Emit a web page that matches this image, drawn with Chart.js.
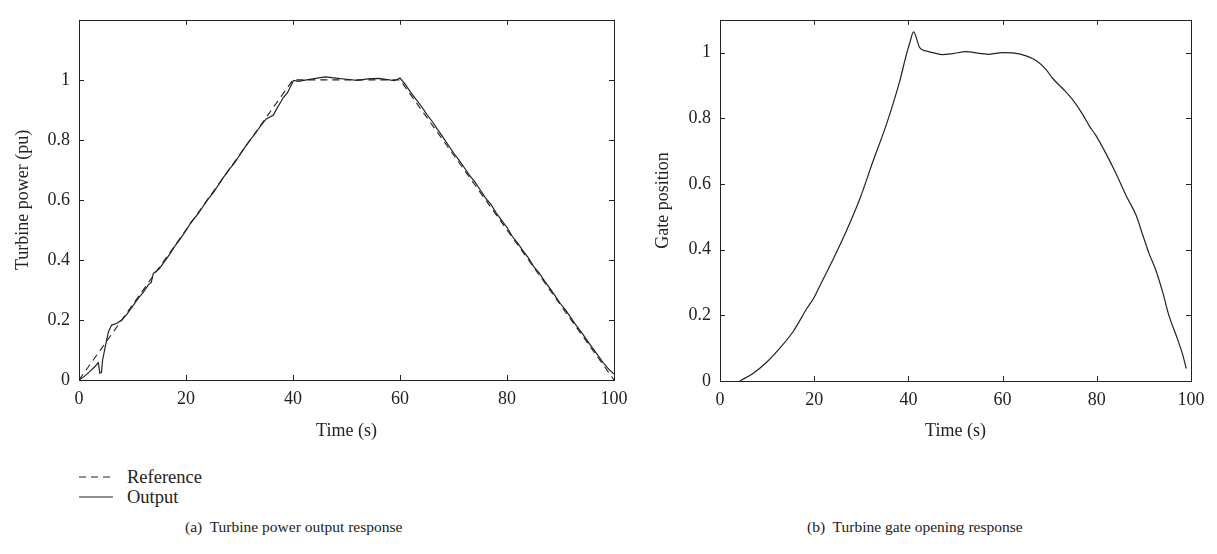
<!DOCTYPE html>
<html>
<head>
<meta charset="utf-8">
<script src="https://cdn.jsdelivr.net/npm/chart.js@4"></script>
<style>
  body { margin: 0; background: #fff; width: 1217px; height: 554px; position: relative; overflow: hidden; font-family: "Liberation Serif", "DejaVu Serif", serif; color: #222; }
  canvas { position: absolute; top: 0; }
  #chartA { left: 0; }
  #chartB { left: 640px; }
  .legend { position: absolute; left: 79px; top: 467px; font-size: 18.5px; line-height: 20px; }
  .legend div { display: flex; align-items: center; }
  .legend svg { margin-right: 14px; }
  .caption { position: absolute; top: 518px; font-size: 15.5px; white-space: pre; }
</style>
</head>
<body>
<canvas id="chartA" width="640" height="450"></canvas>
<canvas id="chartB" width="577" height="450"></canvas>

<div class="legend">
  <div><svg width="34" height="4"><line x1="0" y1="2" x2="34" y2="2" stroke="#222" stroke-width="1.2" stroke-dasharray="7,5"/></svg>Reference</div>
  <div><svg width="34" height="4"><line x1="0" y1="2" x2="34" y2="2" stroke="#222" stroke-width="1.2"/></svg>Output</div>
</div>
<div class="caption" style="left:185px">(a)  Turbine power output response</div>
<div class="caption" style="left:807px">(b)  Turbine gate opening response</div>

<script>
// (a) turbine power
const refTime = [0, 40, 60, 100];
const refPower = [0, 1, 1, 0];

const outTime = [
  0, 1, 2, 3, 3.6, 3.9, 4.2, 4.4, 4.9, 5.5,
  6.1, 7, 8, 8.9, 10, 11, 12, 13, 13.5, 13.9,
  15, 16, 17, 18, 19, 20, 21, 22, 23, 24,
  25, 26, 27, 28, 29, 30, 31, 32, 33, 34,
  35, 36.3, 37, 38.2, 39, 40.1, 41, 42, 44, 46,
  48, 50, 52, 54, 56, 58, 59, 60, 61, 62,
  63, 64, 65, 66, 67, 68, 69, 70, 71, 72,
  73, 74, 75, 76, 77, 78, 79, 80, 81, 82,
  83, 84, 85, 86, 87, 88, 89, 90, 91, 92,
  93, 94, 95, 96, 97, 98, 99, 100
];
const outPower = [
  0, 0.012, 0.028, 0.045, 0.058, 0.022, 0.025, 0.065, 0.11, 0.16,
  0.183, 0.188, 0.2, 0.218, 0.245, 0.27, 0.292, 0.318, 0.325, 0.355,
  0.37, 0.395, 0.42, 0.448, 0.472, 0.498, 0.527, 0.548, 0.573, 0.6,
  0.622, 0.648, 0.675, 0.7, 0.722, 0.748, 0.775, 0.8, 0.822, 0.848,
  0.87, 0.882, 0.905, 0.941, 0.958, 0.998, 0.995, 0.998, 1.004, 1.01,
  1.006, 1.002, 0.998, 1.003, 1.005, 1.0, 0.997, 1.006, 0.985, 0.958,
  0.935, 0.912, 0.885, 0.862, 0.835, 0.81, 0.783, 0.757, 0.733, 0.708,
  0.682, 0.66, 0.633, 0.606, 0.585, 0.556, 0.532, 0.508, 0.478, 0.456,
  0.43, 0.407, 0.378, 0.357, 0.33, 0.306, 0.28, 0.254, 0.232, 0.206,
  0.18, 0.157, 0.131, 0.106, 0.082, 0.057, 0.036, 0.02
];

// (b) gate position
const gateTime = [
  4.2, 7, 9.9, 12.7, 15.5, 18.4, 20, 21.2, 24, 26.8,
  29.7, 32.5, 35.3, 38.1, 39.5, 40.3, 41.1, 42.4, 43.8, 45.2,
  47.3, 49.4, 52.3, 55.1, 57.2, 59.9, 62.1, 65, 67.1, 69.2,
  70.6, 72.8, 74.9, 77, 78.4, 79.8, 81.9, 84, 86.2, 88.3,
  89.7, 91.1, 92.5, 94, 95.3, 96.8, 98.2, 99
];
const gateVal = [
  0, 0.023, 0.057, 0.1, 0.15, 0.22, 0.255, 0.29, 0.37, 0.456,
  0.555, 0.67, 0.78, 0.91, 0.99, 1.03, 1.063, 1.015, 1.005, 1.0,
  0.994, 0.997, 1.003, 0.998, 0.995, 1.0, 0.999, 0.99, 0.976, 0.949,
  0.922, 0.89, 0.856, 0.812, 0.777, 0.748, 0.694, 0.634, 0.565, 0.506,
  0.447, 0.388, 0.339, 0.27, 0.2, 0.141, 0.082, 0.038
];

const xTicks = [0, 20, 40, 60, 80, 100];
const yTicks = [0, 0.2, 0.4, 0.6, 0.8, 1];

const ink = '#222';
const font = { family: '"Liberation Serif", "DejaVu Serif", serif', size: 18 };

function pairs(xs, ys) {
  return xs.map((x, i) => ({ x: x, y: ys[i] }));
}

// box round the plot with ticks pointing inwards on all four sides
const boxTicks = {
  id: 'boxTicks',
  afterDraw(chart) {
    const { ctx, chartArea: a, scales } = chart;
    const len = 5;
    ctx.save();
    ctx.strokeStyle = ink;
    ctx.lineWidth = 1;
    ctx.strokeRect(Math.round(a.left) + 0.5, Math.round(a.top) + 0.5, Math.round(a.right - a.left), Math.round(a.bottom - a.top));
    ctx.beginPath();
    xTicks.forEach((v) => {
      const px = Math.round(scales.x.getPixelForValue(v)) + 0.5;
      ctx.moveTo(px, a.bottom); ctx.lineTo(px, a.bottom - len);
      ctx.moveTo(px, a.top); ctx.lineTo(px, a.top + len);
    });
    yTicks.forEach((v) => {
      const py = Math.round(scales.y.getPixelForValue(v)) + 0.5;
      ctx.moveTo(a.left, py); ctx.lineTo(a.left + len, py);
      ctx.moveTo(a.right, py); ctx.lineTo(a.right - len, py);
    });
    ctx.stroke();
    ctx.restore();
  }
};

function makeChart(id, datasets, yMax, yTitle, sizes) {
  return new Chart(document.getElementById(id), {
    type: 'line',
    data: { datasets: datasets },
    options: {
      responsive: false,
      animation: false,
      devicePixelRatio: 1,
      layout: { padding: { left: 0, right: sizes.right, top: sizes.top, bottom: 0 } },
      elements: { point: { radius: 0 }, line: { tension: 0 } },
      plugins: { legend: { display: false }, tooltip: { enabled: false } },
      scales: {
        x: {
          type: 'linear', min: 0, max: 100,
          afterFit: (s) => { s.height = sizes.xh; },
          afterBuildTicks: (s) => { s.ticks = xTicks.map((v) => ({ value: v })); },
          grid: { display: false, drawTicks: false },
          border: { display: false },
          ticks: { color: ink, font: font, padding: 8, maxRotation: 0 },
          title: { display: true, text: 'Time (s)', color: ink, font: font, padding: { top: 0, bottom: 8 } }
        },
        y: {
          type: 'linear', min: 0, max: yMax,
          afterFit: (s) => { s.width = sizes.yw; },
          afterBuildTicks: (s) => { s.ticks = yTicks.map((v) => ({ value: v })); },
          grid: { display: false, drawTicks: false },
          border: { display: false },
          ticks: { color: ink, font: font, padding: 9, callback: (v) => String(Math.round(v * 10) / 10) },
          title: { display: true, text: yTitle, color: ink, font: font, padding: { top: 12, bottom: 0 } }
        }
      }
    },
    plugins: [boxTicks]
  });
}

makeChart('chartA', [
  { label: 'Reference', data: pairs(refTime, refPower), borderColor: ink, borderWidth: 1.1, borderDash: [7, 5] },
  { label: 'Output', data: pairs(outTime, outPower), borderColor: ink, borderWidth: 1.2 }
], 1.2, 'Turbine power (pu)', { right: 26, top: 8, xh: 70, yw: 79 });

makeChart('chartB', [
  { label: 'Gate position', data: pairs(gateTime, gateVal), borderColor: ink, borderWidth: 1.2, cubicInterpolationMode: 'monotone' }
], 1.1, 'Gate position', { right: 26, top: 9, xh: 69, yw: 80 });
</script>
</body>
</html>
